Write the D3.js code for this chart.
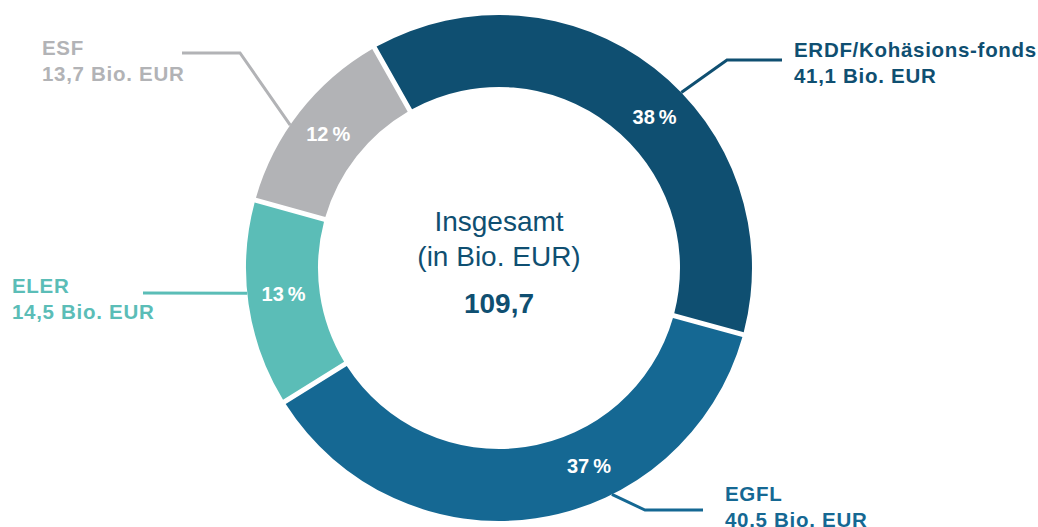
<!DOCTYPE html>
<html>
<head>
<meta charset="utf-8">
<script src="https://cdn.jsdelivr.net/npm/d3@7"></script>
<style>
  body { margin: 0; background: #fff; }
  text { font-family: "Liberation Sans", Arial, sans-serif; }
  .name, .amount { font-size: 20.5px; font-weight: bold; letter-spacing: 0.7px; }
  .share { font-size: 20px; font-weight: bold; fill: #fff; }
  .center { font-size: 28px; fill: #0f4f71; }
</style>
</head>
<body>
<svg width="1038" height="527"></svg>
<script>
const categories = ['ERDF/Kohäsions-fonds', 'EGFL', 'ELER', 'ESF'];
const values = [41.1, 40.5, 14.5, 13.7];
const amountLabels = ['41,1 Bio. EUR', '40.5 Bio. EUR', '14,5 Bio. EUR', '13,7 Bio. EUR'];
const shareLabels = ['38\u2009%', '37\u2009%', '13\u2009%', '12\u2009%'];
const totalLabel = '109,7';
const colors = ['#0f4f71', '#156893', '#5bbdb7', '#b2b3b6'];

// layout: angles in degrees clockwise from 12 o'clock
const labelAngle = [45.8, 155.5, 263.2, 308.1];
const leaderAngle = [46.1, 153.5, 264.3, 304.4];
const leaderBends = [[[727, 60], [782, 60]], [[645, 510], [703, 510]], [[143, 293]], [[240, 53], [182, 53]]];
const textPos = [[794, 57], [725, 501], [12, 293], [42, 55]];

const svg = d3.select('svg');
const cx = 499, cy = 268;
const outerR = 253, innerR = 181;
const rad = (deg) => deg * Math.PI / 180;

const pie = d3.pie()
    .sort(null)
    .value((d) => d)
    .startAngle(rad(-29.5))
    .endAngle(rad(330.5));

const arc = d3.arc()
    .innerRadius(innerR)
    .outerRadius(outerR)
    .padRadius(outerR)
    .padAngle(5 / outerR);

const g = svg.append('g')
    .attr('transform', `translate(${cx}, ${cy})`);

g.selectAll('path.slice')
    .data(pie(values))
    .enter()
    .append('path')
    .attr('class', 'slice')
    .attr('d', arc)
    .attr('fill', (d, i) => colors[i]);

// percentage labels inside the ring
const midR = (innerR + outerR) / 2;
g.selectAll('text.share')
    .data(shareLabels)
    .enter()
    .append('text')
    .attr('class', 'share')
    .attr('x', (d, i) => midR * Math.sin(rad(labelAngle[i])))
    .attr('y', (d, i) => -midR * Math.cos(rad(labelAngle[i])))
    .attr('dy', '0.36em')
    .attr('text-anchor', 'middle')
    .text((d) => d);

// leader lines
const line = d3.line();
svg.selectAll('path.leader')
    .data(categories)
    .enter()
    .append('path')
    .attr('class', 'leader')
    .attr('fill', 'none')
    .attr('stroke', (d, i) => colors[i])
    .attr('stroke-width', 3)
    .attr('d', (d, i) => {
        const a = rad(leaderAngle[i]);
        const start = [cx + outerR * Math.sin(a), cy - outerR * Math.cos(a)];
        return line([start, ...leaderBends[i]]);
    });

// outside labels
categories.forEach((c, i) => {
    const t = svg.append('text')
        .attr('x', textPos[i][0])
        .attr('y', textPos[i][1])
        .attr('fill', colors[i]);
    t.append('tspan').attr('class', 'name').text(c);
    t.append('tspan').attr('class', 'amount')
        .attr('x', textPos[i][0]).attr('dy', 26).text(amountLabels[i]);
});

// center text
g.append('text').attr('class', 'center').attr('text-anchor', 'middle')
    .attr('y', -37).text('Insgesamt');
g.append('text').attr('class', 'center').attr('text-anchor', 'middle')
    .attr('y', -2).text('(in Bio. EUR)');
g.append('text').attr('class', 'center').attr('text-anchor', 'middle')
    .attr('y', 45).attr('font-weight', 'bold').text(totalLabel);
</script>
</body>
</html>
